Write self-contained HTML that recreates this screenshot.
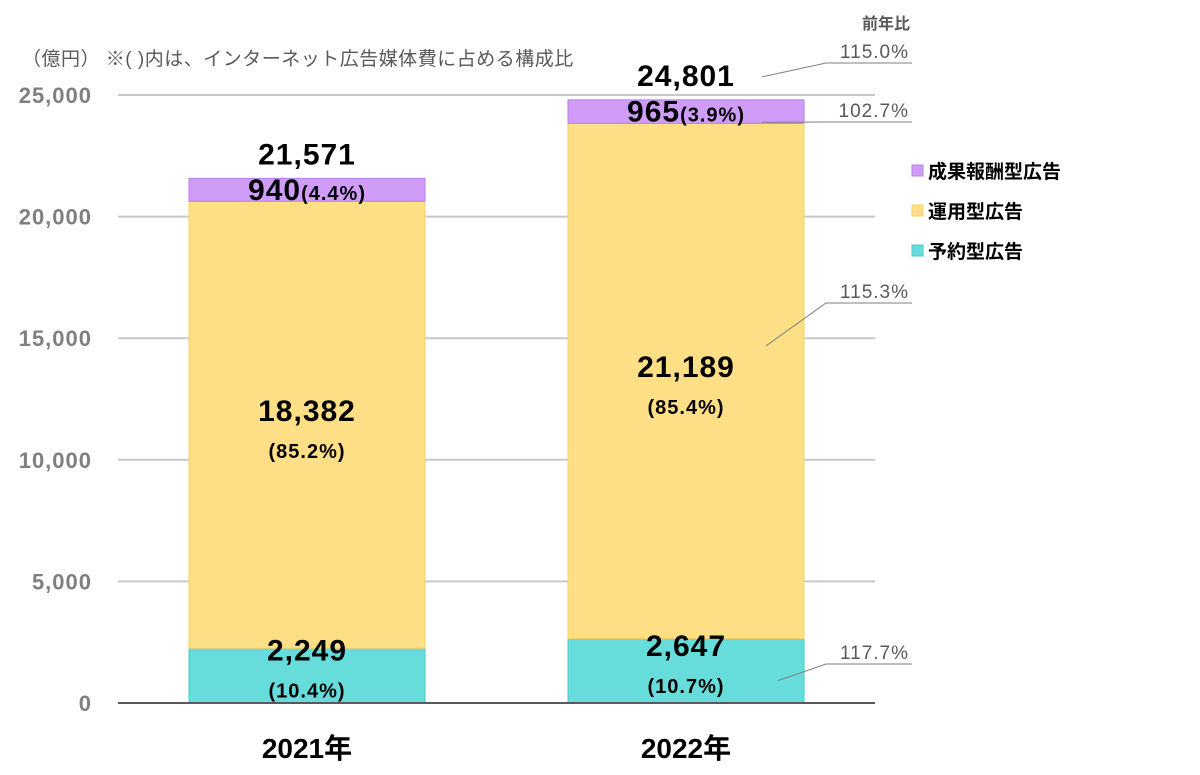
<!DOCTYPE html>
<html><head><meta charset="utf-8"><style>
body{margin:0;background:#fff;}
svg{display:block;font-family:"Liberation Sans","Noto Sans CJK JP",sans-serif;}
</style></head><body>
<svg id="chart" width="1200" height="775" viewBox="0 0 1200 775"></svg>
<script>
const categories = ["2021年", "2022年"];
const seriesNames = ["予約型広告", "運用型広告", "成果報酬型広告"];
const reserved = [2249, 2647];
const operational = [18382, 21189];
const performance = [940, 965];
const reservedPct = ["(10.4%)", "(10.7%)"];
const operationalPct = ["(85.2%)", "(85.4%)"];
const performancePct = ["(4.4%)", "(3.9%)"];
const yTicks = [0, 5000, 10000, 15000, 20000, 25000];
const yoy = ["117.7%", "115.3%", "102.7%", "115.0%"];

const NS = "http://www.w3.org/2000/svg";
const svg = document.getElementById("chart");
const y0 = 703, yMax = 25000, yTopPx = 95;
const y = v => y0 - v * (y0 - yTopPx) / yMax;
const barCenters = [307, 686];
const barW = 236;
const colors = ["#66DDDA", "#FFDF85", "#CF9CF8"];
const strokes = ["#4cc9c6", "#f5d06a", "#b77fe8"];

function mk(tag, attrs, text) {
  const e = document.createElementNS(NS, tag);
  for (const k in attrs) e.setAttribute(k, attrs[k]);
  if (text !== undefined) e.textContent = text;
  svg.appendChild(e);
  return e;
}
const fmt = v => v.toLocaleString("en-US");

let t = mk("text", {x: 22, y: 65, "font-size": 19, fill: "#595959", "letter-spacing": "0.5"}, "（億円）  ※(    )内は、インターネット広告媒体費に占める構成比");



yTicks.forEach(v => {
  if (v > 0) {
    const g = mk("line", {x1: 118, x2: 875, y1: y(v), y2: y(v), stroke: "#c8c8c8", "stroke-width": 2});
    
    
  }
  const l = mk("text", {x: 92, y: y(v) + 8, "font-size": 22, "font-weight": "bold", fill: "#7f7f7f", "text-anchor": "end", "letter-spacing": "1"}, fmt(v));
  
  
});

const series = [reserved, operational, performance];
categories.forEach((c, i) => {
  let base = 0;
  series.forEach((s, k) => {
    const top = base + s[i];
    const r = mk("rect", {x: barCenters[i] - barW / 2, y: y(top), width: barW, height: y(base) - y(top), fill: colors[k], stroke: strokes[k], "stroke-width": 1});
    
    
    base = top;
  });
  const cx = barCenters[i];
  const big = {"font-size": 30, "font-weight": "bold", "text-anchor": "middle", fill: "#000", "letter-spacing": "1"};
  const small = {"font-size": 20, "font-weight": "bold", "text-anchor": "middle", fill: "#000", "letter-spacing": "1"};
  const rMid = y(reserved[i] / 2);
  let a = mk("text", Object.assign({x: cx, y: rMid - 15}, big), fmt(reserved[i]));
  
  
  a = mk("text", Object.assign({x: cx, y: rMid + 22}, small), reservedPct[i]);
  
  
  const oMid = y(reserved[i] + operational[i] / 2);
  a = mk("text", Object.assign({x: cx, y: oMid - 4}, big), fmt(operational[i]));
  
  
  a = mk("text", Object.assign({x: cx, y: oMid + 33}, small), operationalPct[i]);
  
  
  const pMid = y(reserved[i] + operational[i] + performance[i] / 2);
  a = mk("text", Object.assign({x: cx, y: pMid + 10}, small));
  
  
  const ts1 = document.createElementNS(NS, "tspan"); ts1.setAttribute("font-size", "30"); ts1.textContent = fmt(performance[i]);
  const ts2 = document.createElementNS(NS, "tspan"); ts2.textContent = performancePct[i];
  a.appendChild(ts1); a.appendChild(ts2);
  const total = reserved[i] + operational[i] + performance[i];
  a = mk("text", Object.assign({x: cx, y: y(total) - 14}, big), fmt(total));
  
  
  a = mk("text", {x: cx, y: 758, "font-size": 28, "font-weight": "bold", "text-anchor": "middle", fill: "#000"}, c);
  
  
});

let b = mk("line", {x1: 118, x2: 875, y1: y0, y2: y0, stroke: "#595959", "stroke-width": 2});



t = mk("text", {x: 910, y: 29, "font-size": 16, "font-weight": "bold", fill: "#595959", "text-anchor": "end"}, "前年比");


const i2 = 1;
const tot2 = reserved[i2] + operational[i2] + performance[i2];
const anchors = [
  [778, y(reserved[i2]) + 42, 664],
  [766, y(reserved[i2] + operational[i2] / 2) - 35, 303],
  [762, y(tot2 - performance[i2]) - 1, 122],
  [762, y(tot2) - 23, 63]
];
anchors.forEach((p, k) => {
  const pl = mk("polyline", {points: `${p[0]},${p[1]} 826,${p[2]} 912,${p[2]}`, fill: "none", stroke: "#7f7f7f", "stroke-width": 1});
  
  
  const tx = mk("text", {x: 909, y: p[2] - 5, "font-size": 19, fill: "#595959", "text-anchor": "end", "letter-spacing": "1"}, yoy[k]);
  
  
});

const legY = [251, 211, 171];
seriesNames.forEach((n, k) => {
  const r = mk("rect", {x: 912, y: legY[k] - 6, width: 11, height: 11, fill: colors[k], stroke: strokes[k]});
  
  
  const tx = mk("text", {x: 928, y: legY[k] + 7, "font-size": 19, "font-weight": "bold", fill: "#000"}, n);
  
  
});
</script>
</body></html>
